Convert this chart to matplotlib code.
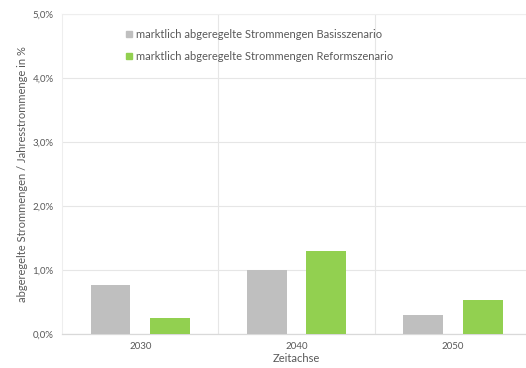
import numpy as np
import matplotlib
matplotlib.use("Agg")
import matplotlib.pyplot as plt
from matplotlib.patches import Patch
from matplotlib.ticker import FuncFormatter

plt.rcParams['font.family'] = ['Lato', 'DejaVu Sans']

years = ['2030', '2040', '2050']
basis = [0.77, 1.0, 0.30]
reform = [0.25, 1.30, 0.53]
label_basis = 'marktlich abgeregelte Strommengen Basisszenario'
label_reform = 'marktlich abgeregelte Strommengen Reformszenario'

grey = '#BFBFBF'
green = '#92D050'
text_col = '#595959'
grid_col = '#E6E6E6'

fig = plt.figure(figsize=(5.26, 3.68), dpi=100)
ax = fig.add_axes([0.118, 0.092, 0.892, 0.870])

x = np.arange(len(years))
w = 0.255
ax.bar(x - 0.19, basis, w, color=grey, zorder=3)
ax.bar(x + 0.19, reform, w, color=green, zorder=3)

ax.set_xlim(-0.5, 2.5)
ax.set_ylim(0, 5)
ax.set_yticks(np.arange(0, 5.01, 1))
ax.yaxis.set_major_formatter(FuncFormatter(lambda v, p: f'{v:.1f}%'.replace('.', ',')))
ax.set_xticks(x)
ax.set_xticklabels(years)

ax.yaxis.grid(True, color=grid_col, lw=0.8, zorder=0)
for b in [0.5, 1.5]:
    ax.axvline(b, color=grid_col, lw=0.8, zorder=0)

for s in ['top', 'left']:
    ax.spines[s].set_color('#EEEEEE')
    ax.spines[s].set_linewidth(0.8)
ax.spines['right'].set_visible(False)
ax.spines['bottom'].set_color('#D9D9D9')
ax.spines['bottom'].set_linewidth(0.9)

ax.tick_params(length=0, labelsize=7, colors=text_col, pad=6)
ax.set_xlabel('Zeitachse', fontsize=8, color=text_col, labelpad=1)
ax.set_ylabel('abgeregelte Strommengen / Jahresstrommenge in %', fontsize=8,
              color=text_col, labelpad=3)

handles = [Patch(color=grey), Patch(color=green)]
ax.legend(handles, [label_basis, label_reform], loc='upper left',
          bbox_to_anchor=(0.115, 0.985), frameon=False, fontsize=8,
          labelcolor=text_col, handlelength=0.55, handleheight=0.55,
          handletextpad=0.35, labelspacing=1.0)

fig.savefig('out.png', dpi=100)
